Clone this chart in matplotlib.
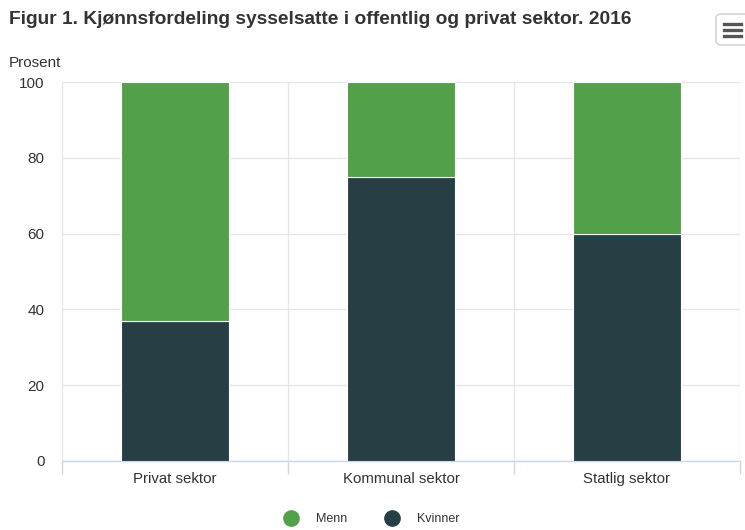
import matplotlib
matplotlib.use("Agg")
import matplotlib.pyplot as plt
from matplotlib.lines import Line2D
from matplotlib.patches import FancyBboxPatch

plt.rcParams['font.family'] = ['Liberation Sans', 'DejaVu Sans']

# Sysselsatte etter kjønn, prosent
sektorer = ['Privat sektor', 'Kommunal sektor', 'Statlig sektor']
kvinner = [37, 75, 60]
menn = [63, 25, 40]
y_ticks = [0, 20, 40, 60, 80, 100]

green = '#52a04a'
dark = '#263f45'
text_col = '#333333'
axis_col = '#ccd6eb'

W, H = 745, 530
fig = plt.figure(figsize=(W / 100, H / 100), dpi=100)
ax = fig.add_axes([62 / W, 69 / H, 678 / W, 379 / H])

x = range(len(sektorer))
ax.bar(x, kvinner, width=0.475, color=dark, edgecolor='white', linewidth=0.8, zorder=3)
ax.bar(x, menn, width=0.475, bottom=kvinner, color=green, edgecolor='white', linewidth=0.8, zorder=3)

ax.set_xlim(-0.5, len(sektorer) - 0.5)
ax.set_ylim(0, 100)
ax.set_yticks(y_ticks)
ax.set_xticks(list(x))
ax.set_xticklabels(sektorer, fontsize=10.8, color=text_col)
ax.set_xticks([i - 0.5 for i in range(len(sektorer) + 1)], minor=True)
ax.tick_params(axis='y', length=0, pad=12.5, labelsize=11, labelcolor=text_col)
ax.tick_params(axis='x', which='major', length=0, pad=8)
ax.tick_params(axis='x', which='minor', length=9, color=axis_col, width=1)

ax.grid(axis='y', color='#e6e6e6', linewidth=1, zorder=0)
ax.grid(axis='x', which='minor', color='#e6e6e6', linewidth=1, zorder=0)
for side in ['top', 'right', 'left']:
    ax.spines[side].set_visible(False)
ax.spines['bottom'].set_color(axis_col)
ax.spines['bottom'].set_linewidth(1)

fig.text(9 / W, 1 - 63 / H, 'Prosent', fontsize=11, color=text_col, va='center', ha='left')
fig.text(9 / W, 1 - 19 / H, 'Figur 1. Kjønnsfordeling sysselsatte i offentlig og privat sektor. 2016',
         fontsize=13.8, fontweight='bold', color=text_col, va='center', ha='left')

# meny-knapp oppe til høyre
fig.patches.append(FancyBboxPatch((716 / W, 1 - 45 / H), 34 / W, 31 / H,
                                  boxstyle='round,pad=0,rounding_size=0.008',
                                  transform=fig.transFigure, facecolor='white',
                                  edgecolor='#cccccc', linewidth=1))
for yy in [24, 30, 36]:
    fig.lines.append(Line2D([724 / W, 741 / W], [1 - yy / H, 1 - yy / H],
                            transform=fig.transFigure, color='#555555', linewidth=2.4))

handles = [Line2D([], [], marker='o', linestyle='', markersize=11, color=green),
           Line2D([], [], marker='o', linestyle='', markersize=11, color=dark)]
fig.legend(handles, ['Menn', 'Kvinner'], loc='center', bbox_to_anchor=(369 / W, 1 - 519 / H),
           ncol=2, frameon=False, fontsize=9, labelcolor=text_col,
           handletextpad=1.0, columnspacing=2.6)

fig.savefig('out.png', dpi=100)
